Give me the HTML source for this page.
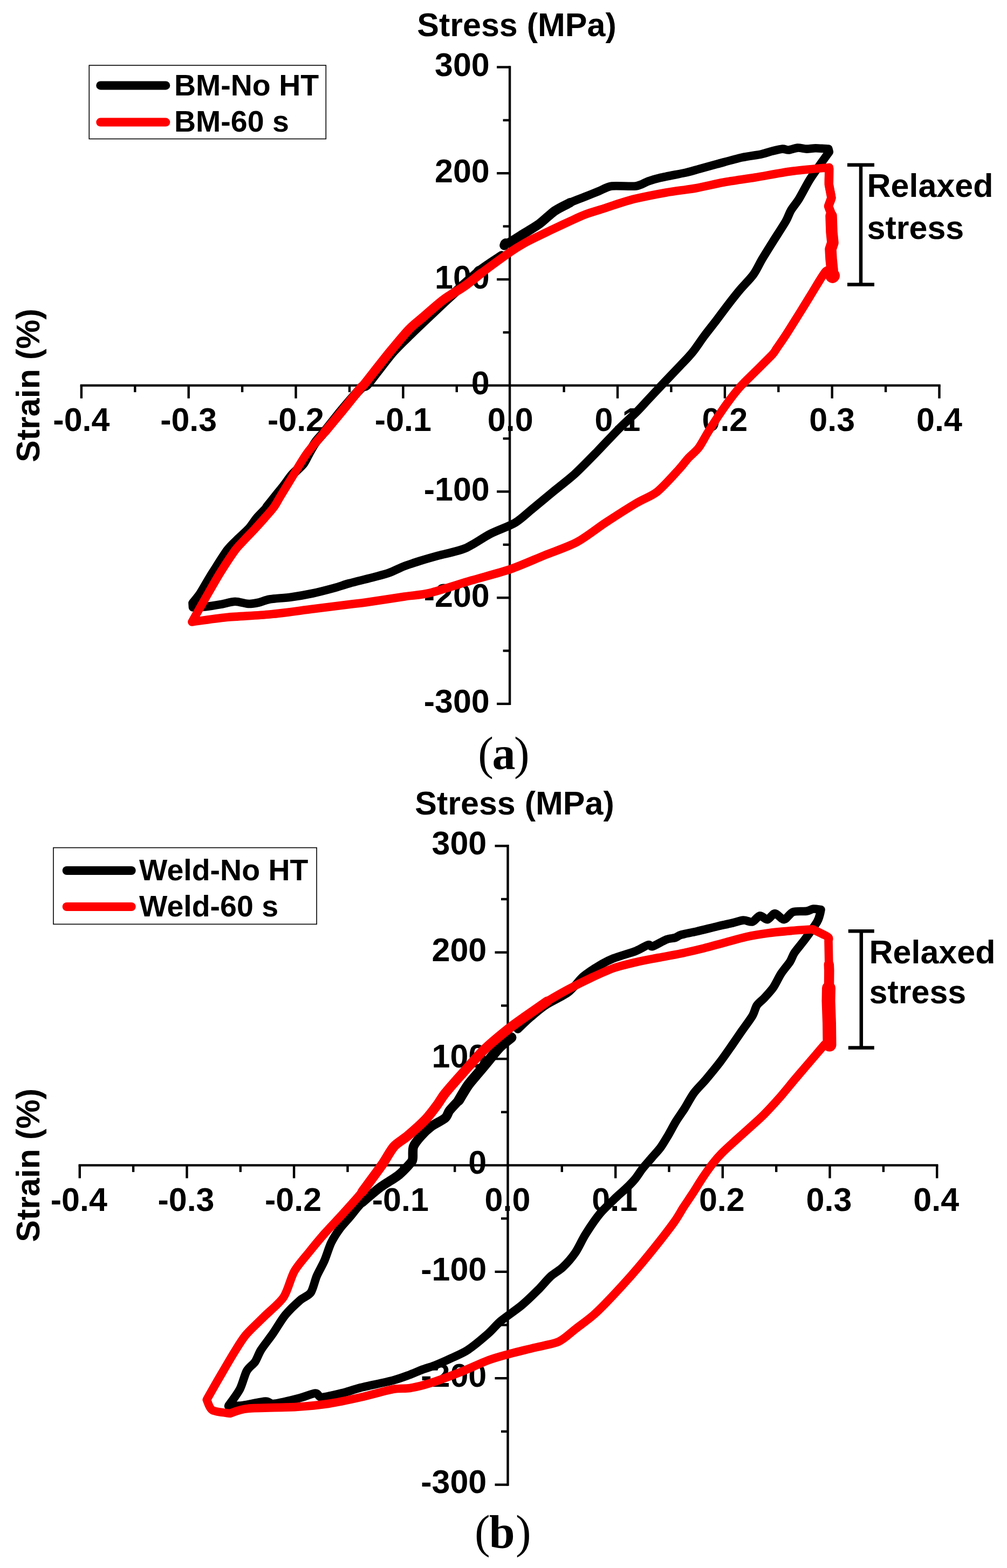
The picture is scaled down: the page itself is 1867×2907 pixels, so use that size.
<!DOCTYPE html>
<html lang="en">
<head>
<meta charset="utf-8">
<title>Stress-strain hysteresis loops</title>
<style>
html,body{margin:0;padding:0;background:#fff;}
body{width:1867px;height:2907px;overflow:hidden;}
svg{display:block;}
text{white-space:pre;}
</style>
</head>
<body>
<svg width="1867" height="2907" viewBox="0 0 1867 2907">
<rect x="0" y="0" width="1867" height="2907" fill="#fff"/>
<g id="plot-a">
<g font-family='"Liberation Sans", sans-serif' font-weight="bold" font-size="61px" fill="#000">
<text x="958" y="66.5" text-anchor="middle">Stress (MPa)</text>
<text transform="translate(73,714.6) rotate(-90)" text-anchor="middle">Strain (%)</text>
<text x="150.9" y="799.4" text-anchor="middle">-0.4</text>
<text x="349.7" y="799.4" text-anchor="middle">-0.3</text>
<text x="548.5" y="799.4" text-anchor="middle">-0.2</text>
<text x="747.4" y="799.4" text-anchor="middle">-0.1</text>
<text x="946.2" y="799.4" text-anchor="middle">0.0</text>
<text x="1145.0" y="799.4" text-anchor="middle">0.1</text>
<text x="1343.9" y="799.4" text-anchor="middle">0.2</text>
<text x="1542.7" y="799.4" text-anchor="middle">0.3</text>
<text x="1741.5" y="799.4" text-anchor="middle">0.4</text>
<text x="907.8" y="141.0" text-anchor="end">300</text>
<text x="907.8" y="337.7" text-anchor="end">200</text>
<text x="907.8" y="534.5" text-anchor="end">100</text>
<text x="907.8" y="731.2" text-anchor="end">0</text>
<text x="907.8" y="927.9" text-anchor="end">-100</text>
<text x="907.8" y="1124.7" text-anchor="end">-200</text>
<text x="907.8" y="1321.4" text-anchor="end">-300</text>
</g>
<g stroke="#000" stroke-width="4.4" fill="none" stroke-linecap="butt">
<line x1="148.7" y1="714.6" x2="1743.7" y2="714.6"/>
<line x1="945.1" y1="122.3" x2="945.1" y2="1307.1"/>
<line x1="150.9" y1="714.6" x2="150.9" y2="738.6"/>
<line x1="250.3" y1="714.6" x2="250.3" y2="727.1"/>
<line x1="349.7" y1="714.6" x2="349.7" y2="738.6"/>
<line x1="449.1" y1="714.6" x2="449.1" y2="727.1"/>
<line x1="548.5" y1="714.6" x2="548.5" y2="738.6"/>
<line x1="648.0" y1="714.6" x2="648.0" y2="727.1"/>
<line x1="747.4" y1="714.6" x2="747.4" y2="738.6"/>
<line x1="846.8" y1="714.6" x2="846.8" y2="727.1"/>
<line x1="1045.6" y1="714.6" x2="1045.6" y2="727.1"/>
<line x1="1145.0" y1="714.6" x2="1145.0" y2="738.6"/>
<line x1="1244.4" y1="714.6" x2="1244.4" y2="727.1"/>
<line x1="1343.9" y1="714.6" x2="1343.9" y2="738.6"/>
<line x1="1443.3" y1="714.6" x2="1443.3" y2="727.1"/>
<line x1="1542.7" y1="714.6" x2="1542.7" y2="738.6"/>
<line x1="1642.1" y1="714.6" x2="1642.1" y2="727.1"/>
<line x1="1741.5" y1="714.6" x2="1741.5" y2="738.6"/>
<line x1="945.1" y1="1304.9" x2="921.1" y2="1304.9"/>
<line x1="945.1" y1="1206.5" x2="932.6" y2="1206.5"/>
<line x1="945.1" y1="1108.2" x2="921.1" y2="1108.2"/>
<line x1="945.1" y1="1009.8" x2="932.6" y2="1009.8"/>
<line x1="945.1" y1="911.4" x2="921.1" y2="911.4"/>
<line x1="945.1" y1="813.1" x2="932.6" y2="813.1"/>
<line x1="945.1" y1="616.3" x2="932.6" y2="616.3"/>
<line x1="945.1" y1="518.0" x2="921.1" y2="518.0"/>
<line x1="945.1" y1="419.6" x2="932.6" y2="419.6"/>
<line x1="945.1" y1="321.2" x2="921.1" y2="321.2"/>
<line x1="945.1" y1="222.9" x2="932.6" y2="222.9"/>
<line x1="945.1" y1="124.5" x2="921.1" y2="124.5"/>
</g>
<rect x="165.3" y="121.1" width="438.99999999999994" height="136.4" fill="#fff" stroke="#000" stroke-width="1.6"/>
<line x1="186.3" y1="158.4" x2="307.3" y2="158.4" stroke="#000" stroke-width="16" stroke-linecap="round"/>
<line x1="186.3" y1="226.6" x2="307.3" y2="226.6" stroke="#f00" stroke-width="16" stroke-linecap="round"/>
<g font-family='"Liberation Sans", sans-serif' font-weight="bold" font-size="55.5px" fill="#000">
<text x="323" y="177.3">BM-No HT</text>
<text x="323" y="243.5">BM-60 s</text>
</g>
<path d="M935.0,455.0 C935.3,454.4 935.6,451.8 937.0,451.0 C938.4,450.2 940.1,452.1 945.0,449.5 C949.9,446.9 963.6,437.9 971.4,433.0 C979.2,428.1 991.9,420.9 1000.0,415.0 C1008.1,409.1 1020.5,396.6 1028.6,391.0 C1036.7,385.4 1049.0,379.5 1057.1,375.7 C1065.2,371.9 1078.2,367.3 1085.7,364.3 C1093.2,361.3 1103.1,357.2 1110.0,354.5 C1116.9,351.8 1124.7,346.3 1134.5,345.0 C1144.3,343.7 1169.7,346.3 1179.2,345.0 C1188.7,343.7 1195.3,338.3 1201.6,336.1 C1207.9,333.9 1213.6,332.1 1223.9,329.7 C1234.2,327.3 1263.9,321.7 1274.2,319.4 C1284.5,317.1 1288.6,315.4 1296.5,313.2 C1304.4,311.0 1318.8,307.0 1330.0,304.0 C1341.2,301.0 1363.8,294.6 1375.4,292.0 C1387.0,289.4 1403.8,287.5 1411.7,285.8 C1419.6,284.1 1425.7,281.7 1431.2,280.3 C1436.7,278.9 1446.4,276.4 1450.8,276.1 C1455.2,275.8 1458.0,278.3 1462.0,278.0 C1466.0,277.7 1474.0,274.4 1478.7,274.1 C1483.4,273.8 1490.8,276.0 1495.5,276.1 C1500.2,276.2 1506.5,274.7 1512.2,274.7 C1517.9,274.7 1532.5,275.9 1535.9,276.1 L1537.3,281.7 C1535.1,284.7 1527.1,295.7 1522.0,303.0 C1516.9,310.3 1507.2,323.6 1501.4,332.9 C1495.6,342.2 1486.4,360.5 1481.4,368.6 C1476.4,376.7 1469.9,384.1 1466.4,390.0 C1462.9,395.9 1461.6,401.9 1457.0,410.0 C1452.4,418.1 1439.8,437.2 1433.6,447.1 C1427.4,457.0 1418.4,471.3 1413.2,480.0 C1408.0,488.7 1402.9,500.5 1397.1,508.6 C1391.3,516.7 1378.9,529.0 1372.1,537.1 C1365.3,545.2 1355.6,557.6 1349.3,565.7 C1343.0,573.8 1334.1,586.2 1327.9,594.3 C1321.7,602.4 1311.6,615.0 1305.7,622.9 C1299.8,630.8 1291.0,644.0 1286.4,650.0 C1281.8,656.0 1280.5,657.5 1272.9,665.6 C1265.3,673.7 1243.1,696.8 1233.0,707.5 C1222.9,718.2 1209.0,733.0 1201.5,741.0 C1194.0,749.0 1187.8,756.2 1180.0,764.0 C1172.2,771.8 1156.3,786.1 1146.1,796.4 C1135.9,806.7 1119.2,824.9 1107.8,836.6 C1096.4,848.3 1077.5,867.9 1065.6,878.8 C1053.7,889.7 1034.9,903.8 1023.5,913.2 C1012.1,922.6 995.0,937.0 985.2,945.0 C975.4,953.0 965.4,963.1 954.5,969.5 C943.6,975.9 921.6,983.3 908.6,990.0 C895.6,996.7 876.2,1010.8 862.6,1016.5 C849.0,1022.2 824.7,1026.7 812.8,1030.0 C800.9,1033.3 787.2,1037.2 778.3,1040.0 C769.4,1042.8 758.1,1046.4 750.0,1049.5 C741.9,1052.6 729.0,1059.3 720.9,1062.2 C712.8,1065.1 703.3,1067.3 693.0,1070.0 C682.7,1072.7 658.3,1078.6 648.0,1081.4 C637.7,1084.2 629.6,1087.4 620.0,1090.0 C610.4,1092.6 591.3,1097.6 580.0,1100.0 C568.7,1102.4 551.3,1105.4 540.0,1107.0 C528.7,1108.6 508.5,1109.6 500.0,1111.0 C491.5,1112.4 485.7,1115.8 480.0,1117.0 C474.3,1118.2 466.2,1119.7 460.0,1119.4 C453.8,1119.1 443.1,1115.1 436.0,1115.2 C428.9,1115.3 417.9,1119.0 410.0,1120.4 C402.1,1121.8 387.4,1124.2 380.0,1125.0 C372.6,1125.8 360.7,1125.9 357.5,1126.0 L357.0,1118.0 C359.0,1115.5 366.9,1106.1 371.0,1100.0 C375.1,1093.9 382.4,1080.7 385.8,1075.0 C389.2,1069.3 390.0,1067.8 395.0,1060.0 C400.0,1052.2 414.6,1028.5 421.0,1020.0 C427.4,1011.5 434.3,1005.7 440.0,1000.0 C445.7,994.3 455.9,985.7 461.0,980.0 C466.1,974.3 471.2,965.7 476.0,960.0 C480.8,954.3 490.0,945.7 495.0,940.0 C500.0,934.3 506.5,925.7 511.0,920.0 C515.5,914.3 522.6,905.7 527.0,900.0 C531.4,894.3 537.0,885.7 542.0,880.0 C547.0,874.3 557.6,865.7 562.0,860.0 C566.4,854.3 569.7,845.7 573.0,840.0 C576.3,834.3 580.9,825.7 585.0,820.0 C589.1,814.3 595.1,808.5 602.0,800.0 C608.9,791.5 624.5,771.3 634.0,760.0 C643.5,748.7 662.5,726.5 669.0,720.0 C675.5,713.5 675.8,718.2 680.0,714.0 C684.2,709.8 691.9,698.9 699.0,690.0 C706.1,681.1 720.8,661.3 730.0,651.0 C739.2,640.7 755.9,624.9 764.0,617.0 C772.1,609.1 778.5,603.1 787.0,595.0 C795.5,586.9 813.9,569.4 824.0,560.0 C834.1,550.6 848.9,537.1 858.0,529.0 C867.1,520.9 880.4,509.1 888.0,503.0 C895.6,496.9 906.0,490.1 912.0,486.0 C918.0,481.9 927.5,475.7 930.0,474.0" fill="none" stroke="#000" stroke-width="15.6" stroke-linejoin="round" stroke-linecap="round"/>
<path d="M495.0,940.0 C497.3,937.2 506.5,925.7 511.0,920.0 C515.5,914.3 522.6,905.7 527.0,900.0 C531.4,894.3 537.0,885.7 542.0,880.0 C547.0,874.3 557.6,865.7 562.0,860.0 C566.4,854.3 569.7,845.7 573.0,840.0 C576.3,834.3 580.9,825.7 585.0,820.0 C589.1,814.3 595.1,808.5 602.0,800.0 C608.9,791.5 624.5,771.3 634.0,760.0 C643.5,748.7 662.5,726.5 669.0,720.0 C675.5,713.5 675.8,718.2 680.0,714.0 C684.2,709.8 691.9,698.9 699.0,690.0 C706.1,681.1 720.8,661.3 730.0,651.0 C739.2,640.7 755.9,624.9 764.0,617.0 C772.1,609.1 778.5,603.1 787.0,595.0 C795.5,586.9 813.9,569.4 824.0,560.0 C834.1,550.6 848.9,537.1 858.0,529.0 C867.1,520.9 880.4,509.1 888.0,503.0 C895.6,496.9 906.0,490.1 912.0,486.0 C918.0,481.9 927.5,475.7 930.0,474.0" fill="none" stroke="#000" stroke-width="17.5" stroke-linejoin="round" stroke-linecap="round"/>
<path d="M935.0,455.0 C935.3,454.4 935.6,451.8 937.0,451.0 C938.4,450.2 940.1,452.1 945.0,449.5 C949.9,446.9 963.6,437.9 971.4,433.0 C979.2,428.1 991.9,420.9 1000.0,415.0 C1008.1,409.1 1020.5,396.6 1028.6,391.0 C1036.7,385.4 1053.1,377.9 1057.1,375.7" fill="none" stroke="#000" stroke-width="17.5" stroke-linejoin="round" stroke-linecap="round"/>
<path d="M356.0,1153.0 C360.2,1145.5 378.4,1113.2 386.0,1100.0 C393.6,1086.8 402.3,1071.3 409.4,1060.0 C416.5,1048.7 429.7,1028.5 436.0,1020.0 C442.3,1011.5 448.8,1005.7 454.0,1000.0 C459.2,994.3 467.8,985.7 473.0,980.0 C478.2,974.3 486.0,965.7 491.0,960.0 C496.0,954.3 503.9,945.7 508.0,940.0 C512.1,934.3 514.8,928.5 520.0,920.0 C525.2,911.5 537.4,891.3 544.4,880.0 C551.4,868.7 561.2,851.2 569.4,840.0 C577.6,828.8 592.6,812.3 602.0,801.0 C611.4,789.7 626.6,771.5 636.0,760.0 C645.4,748.5 662.6,726.5 668.0,720.0 C673.4,713.5 670.5,718.2 674.0,714.0 C677.5,709.8 685.9,698.9 693.0,690.0 C700.1,681.1 714.8,662.2 724.0,651.0 C733.2,639.8 749.8,619.6 758.0,611.0 C766.2,602.4 772.9,597.8 782.0,590.0 C791.1,582.2 810.7,564.5 822.0,556.0 C833.3,547.5 852.1,537.0 862.0,530.0 C871.9,523.0 880.2,515.4 892.0,506.6 C903.8,497.8 933.8,475.8 945.0,468.0 C956.2,460.2 963.6,455.9 971.4,451.5 C979.2,447.1 991.9,441.0 1000.0,437.0 C1008.1,433.0 1020.5,427.1 1028.6,423.3 C1036.7,419.5 1049.0,413.7 1057.1,410.0 C1065.2,406.3 1076.8,400.7 1085.7,397.4 C1094.6,394.1 1110.9,389.4 1120.0,386.4 C1129.1,383.4 1141.6,379.1 1150.0,376.5 C1158.4,373.9 1167.1,371.0 1179.2,368.2 C1191.3,365.4 1219.3,359.8 1235.1,357.0 C1250.9,354.2 1275.8,351.4 1290.9,348.7 C1306.0,346.0 1326.4,340.8 1341.9,338.0 C1357.4,335.2 1382.2,331.9 1400.0,329.0 C1417.8,326.1 1448.0,320.1 1467.5,317.5 C1487.0,314.9 1527.4,311.4 1537.3,310.4 L1537.3,313.0 C1537.2,317.1 1536.2,334.1 1536.8,341.7 C1537.4,349.3 1541.6,361.1 1541.5,366.8 C1541.4,372.5 1536.0,377.9 1536.0,382.2 C1536.0,386.5 1540.7,391.4 1541.5,397.5 C1542.3,403.6 1541.2,418.4 1541.5,425.5 C1541.8,432.6 1543.7,442.3 1543.5,447.8 C1543.3,453.3 1540.2,459.0 1540.1,464.5 C1540.0,470.0 1542.3,481.4 1542.9,486.9 C1543.5,492.4 1544.0,499.5 1544.0,503.6 C1544.0,507.7 1543.1,514.2 1543.0,516.0 L1541.0,500.0 C1539.6,500.4 1534.1,500.0 1531.0,503.0 C1527.9,506.0 1522.4,515.6 1519.0,521.0 C1515.6,526.4 1511.6,533.2 1506.8,541.0 C1502.0,548.8 1492.2,565.0 1485.1,576.3 C1478.0,587.6 1463.4,611.1 1457.0,621.0 C1450.6,630.9 1443.5,640.9 1440.0,646.0 C1436.5,651.1 1437.5,651.3 1432.0,657.3 C1426.5,663.2 1409.6,679.7 1401.3,688.0 C1393.0,696.3 1380.5,708.0 1373.4,715.9 C1366.3,723.8 1356.9,735.9 1351.0,743.8 C1345.1,751.7 1337.0,763.5 1331.5,771.8 C1326.0,780.1 1317.0,794.2 1311.9,802.5 C1306.8,810.8 1300.3,823.7 1295.2,830.4 C1290.1,837.1 1280.7,844.3 1275.6,849.9 C1270.5,855.5 1266.9,861.3 1258.9,870.0 C1250.9,878.7 1230.0,902.5 1218.9,911.3 C1207.8,920.1 1194.2,924.3 1180.6,932.4 C1167.0,940.5 1138.8,958.5 1123.1,968.8 C1107.4,979.1 1085.8,996.5 1069.5,1005.2 C1053.2,1013.9 1025.6,1023.0 1008.2,1030.1 C990.8,1037.2 965.9,1048.5 946.9,1055.0 C927.9,1061.5 895.3,1069.9 874.1,1076.1 C852.9,1082.3 815.1,1094.9 797.5,1099.1 C779.9,1103.3 766.8,1103.5 750.0,1106.0 C733.2,1108.5 693.5,1114.7 679.0,1116.7 C664.5,1118.7 662.0,1118.7 648.0,1120.4 C634.0,1122.1 601.0,1126.4 580.0,1129.0 C559.0,1131.6 522.7,1136.8 500.0,1139.0 C477.3,1141.2 440.4,1142.5 420.0,1144.5 C399.6,1146.5 365.1,1151.8 356.0,1153.0" fill="none" stroke="#f00" stroke-width="15.6" stroke-linejoin="round" stroke-linecap="round"/>
<path d="M602.0,801.0 C606.8,795.2 626.6,771.5 636.0,760.0 C645.4,748.5 662.6,726.5 668.0,720.0 C673.4,713.5 670.5,718.2 674.0,714.0 C677.5,709.8 685.9,698.9 693.0,690.0 C700.1,681.1 714.8,662.2 724.0,651.0 C733.2,639.8 749.8,619.6 758.0,611.0 C766.2,602.4 772.9,597.8 782.0,590.0 C791.1,582.2 810.7,564.5 822.0,556.0 C833.3,547.5 852.1,537.0 862.0,530.0 C871.9,523.0 887.8,509.9 892.0,506.6" fill="none" stroke="#f00" stroke-width="17" stroke-linejoin="round" stroke-linecap="round"/>
<polyline points="1537.3,313.0 1536.8,341.7 1541.5,366.8 1536.0,382.2 1541.5,397.5 1541.5,425.5 1543.5,447.8 1540.1,464.5 1542.9,486.9 1544.0,503.6 1543.0,516.0" fill="none" stroke="#f00" stroke-width="16.5" stroke-linejoin="round" stroke-linecap="round"/>
<polyline points="1541.0,400.0 1542.0,430.0 1544.0,450.0 1540.0,462.0 1541.0,480.0 1543.0,500.0 1543.5,514.0" fill="none" stroke="#f00" stroke-width="21.5" stroke-linejoin="round" stroke-linecap="round"/>
<circle cx="1543.5" cy="511" r="13.5" fill="#f00"/>
<g stroke="#000" stroke-width="6.5" fill="none">
<line x1="1596" y1="305.7" x2="1596" y2="527.4"/>
<line x1="1571" y1="305.7" x2="1621" y2="305.7"/>
<line x1="1571" y1="527.4" x2="1621" y2="527.4"/>
</g>
<g font-family='"Liberation Sans", sans-serif' font-weight="bold" font-size="61px" fill="#000">
<text x="1607.5" y="365.4">Relaxed</text>
<text x="1607.5" y="442.8">stress</text>
</g>
<text y="1426" font-family='"Liberation Serif", serif' font-size="86px" fill="#000"><tspan x="886.3">(</tspan><tspan x="912.5" font-weight="bold">a</tspan><tspan x="953.1">)</tspan></text>
</g>
<g id="plot-b">
<g font-family='"Liberation Sans", sans-serif' font-weight="bold" font-size="61px" fill="#000">
<text x="954" y="1509.5" text-anchor="middle">Stress (MPa)</text>
<text transform="translate(73,2160.4) rotate(-90)" text-anchor="middle">Strain (%)</text>
<text x="146.3" y="2245.2" text-anchor="middle">-0.4</text>
<text x="345.0" y="2245.2" text-anchor="middle">-0.3</text>
<text x="543.6" y="2245.2" text-anchor="middle">-0.2</text>
<text x="742.3" y="2245.2" text-anchor="middle">-0.1</text>
<text x="941.0" y="2245.2" text-anchor="middle">0.0</text>
<text x="1139.7" y="2245.2" text-anchor="middle">0.1</text>
<text x="1338.3" y="2245.2" text-anchor="middle">0.2</text>
<text x="1537.0" y="2245.2" text-anchor="middle">0.3</text>
<text x="1735.7" y="2245.2" text-anchor="middle">0.4</text>
<text x="902.3" y="1584.1" text-anchor="end">300</text>
<text x="902.3" y="1781.5" text-anchor="end">200</text>
<text x="902.3" y="1978.9" text-anchor="end">100</text>
<text x="902.3" y="2176.2" text-anchor="end">0</text>
<text x="902.3" y="2373.6" text-anchor="end">-100</text>
<text x="902.3" y="2571.0" text-anchor="end">-200</text>
<text x="902.3" y="2768.4" text-anchor="end">-300</text>
</g>
<g stroke="#000" stroke-width="4.4" fill="none" stroke-linecap="butt">
<line x1="145.6" y1="2160.4" x2="1739.4" y2="2160.4"/>
<line x1="941.5" y1="1566.1" x2="941.5" y2="2754.8"/>
<line x1="147.8" y1="2160.4" x2="147.8" y2="2184.4"/>
<line x1="247.1" y1="2160.4" x2="247.1" y2="2172.9"/>
<line x1="346.5" y1="2160.4" x2="346.5" y2="2184.4"/>
<line x1="445.8" y1="2160.4" x2="445.8" y2="2172.9"/>
<line x1="545.1" y1="2160.4" x2="545.1" y2="2184.4"/>
<line x1="644.5" y1="2160.4" x2="644.5" y2="2172.9"/>
<line x1="743.8" y1="2160.4" x2="743.8" y2="2184.4"/>
<line x1="843.2" y1="2160.4" x2="843.2" y2="2172.9"/>
<line x1="1041.8" y1="2160.4" x2="1041.8" y2="2172.9"/>
<line x1="1141.2" y1="2160.4" x2="1141.2" y2="2184.4"/>
<line x1="1240.5" y1="2160.4" x2="1240.5" y2="2172.9"/>
<line x1="1339.8" y1="2160.4" x2="1339.8" y2="2184.4"/>
<line x1="1439.2" y1="2160.4" x2="1439.2" y2="2172.9"/>
<line x1="1538.5" y1="2160.4" x2="1538.5" y2="2184.4"/>
<line x1="1637.9" y1="2160.4" x2="1637.9" y2="2172.9"/>
<line x1="1737.2" y1="2160.4" x2="1737.2" y2="2184.4"/>
<line x1="941.5" y1="2752.6" x2="917.5" y2="2752.6"/>
<line x1="941.5" y1="2653.9" x2="929.0" y2="2653.9"/>
<line x1="941.5" y1="2555.2" x2="917.5" y2="2555.2"/>
<line x1="941.5" y1="2456.5" x2="929.0" y2="2456.5"/>
<line x1="941.5" y1="2357.8" x2="917.5" y2="2357.8"/>
<line x1="941.5" y1="2259.1" x2="929.0" y2="2259.1"/>
<line x1="941.5" y1="2061.8" x2="929.0" y2="2061.8"/>
<line x1="941.5" y1="1963.1" x2="917.5" y2="1963.1"/>
<line x1="941.5" y1="1864.4" x2="929.0" y2="1864.4"/>
<line x1="941.5" y1="1765.7" x2="917.5" y2="1765.7"/>
<line x1="941.5" y1="1667.0" x2="929.0" y2="1667.0"/>
<line x1="941.5" y1="1568.3" x2="917.5" y2="1568.3"/>
</g>
<rect x="99" y="1571.6" width="488.1" height="141.80000000000018" fill="#fff" stroke="#000" stroke-width="1.6"/>
<line x1="123.7" y1="1614" x2="243.7" y2="1614" stroke="#000" stroke-width="16" stroke-linecap="round"/>
<line x1="123.7" y1="1681" x2="243.7" y2="1681" stroke="#f00" stroke-width="16" stroke-linecap="round"/>
<g font-family='"Liberation Sans", sans-serif' font-weight="bold" font-size="55.5px" fill="#000">
<text x="258" y="1632.3">Weld-No HT</text>
<text x="258" y="1698.6">Weld-60 s</text>
</g>
<path d="M960.0,1908.0 C963.4,1904.8 976.5,1892.0 983.8,1885.7 C991.1,1879.4 1001.8,1869.9 1011.7,1863.4 C1021.6,1856.9 1043.7,1847.1 1053.6,1839.6 C1063.5,1832.1 1073.2,1817.4 1081.5,1810.3 C1089.8,1803.2 1104.3,1794.1 1112.2,1789.4 C1120.1,1784.7 1127.8,1780.6 1137.3,1776.8 C1146.8,1773.0 1170.1,1766.5 1179.2,1762.9 C1188.3,1759.3 1197.2,1752.9 1201.6,1751.7 C1206.0,1750.5 1205.3,1755.9 1210.0,1754.5 C1214.7,1753.1 1229.2,1744.2 1235.1,1741.9 C1241.0,1739.6 1247.8,1739.8 1251.8,1738.5 C1255.8,1737.2 1257.5,1734.6 1263.0,1733.0 C1268.5,1731.4 1281.7,1729.1 1290.9,1727.0 C1300.1,1724.9 1318.7,1720.2 1327.9,1718.0 C1337.1,1715.8 1348.7,1713.4 1355.8,1711.7 C1362.9,1710.0 1372.7,1706.5 1378.2,1706.1 C1383.7,1705.7 1390.6,1710.1 1394.9,1708.9 C1399.2,1707.7 1404.9,1698.3 1408.9,1697.7 C1412.9,1697.1 1418.9,1705.3 1422.9,1704.7 C1426.9,1704.1 1432.5,1693.5 1436.8,1693.5 C1441.1,1693.5 1448.9,1705.1 1453.6,1704.7 C1458.3,1704.3 1464.4,1692.9 1470.3,1690.7 C1476.2,1688.5 1490.2,1690.1 1495.5,1689.3 C1500.8,1688.5 1504.2,1685.5 1508.0,1685.1 C1511.8,1684.7 1520.0,1686.3 1522.0,1686.5 L1520.6,1693.5 C1519.8,1695.7 1519.0,1702.2 1515.0,1708.9 C1511.0,1715.6 1498.6,1732.9 1492.7,1741.0 C1486.8,1749.1 1477.1,1760.2 1473.1,1766.1 C1469.1,1772.0 1468.3,1777.4 1464.7,1782.9 C1461.1,1788.4 1452.3,1798.5 1448.0,1805.2 C1443.7,1811.9 1438.3,1824.0 1434.0,1830.3 C1429.7,1836.6 1421.6,1845.2 1417.3,1849.9 C1413.0,1854.6 1406.5,1859.1 1403.3,1863.8 C1400.1,1868.5 1398.9,1876.7 1394.9,1883.4 C1390.9,1890.1 1380.9,1903.4 1375.4,1911.3 C1369.9,1919.2 1361.7,1931.3 1356.0,1939.5 C1350.3,1947.7 1341.7,1960.2 1335.0,1969.0 C1328.3,1977.8 1315.6,1993.2 1308.7,2001.4 C1301.8,2009.6 1291.9,2019.1 1286.4,2026.6 C1280.9,2034.1 1274.3,2047.0 1269.6,2054.5 C1264.9,2062.0 1257.2,2072.5 1252.9,2079.6 C1248.6,2086.7 1242.9,2098.0 1238.9,2104.7 C1234.9,2111.4 1229.2,2121.2 1224.9,2127.1 C1220.6,2133.0 1212.9,2141.1 1208.2,2146.6 C1203.5,2152.1 1195.7,2160.7 1191.4,2166.2 C1187.1,2171.7 1181.9,2180.3 1177.5,2185.7 C1173.1,2191.1 1164.9,2199.3 1160.0,2204.0 C1155.1,2208.7 1149.8,2212.7 1143.1,2219.2 C1136.4,2225.7 1120.6,2240.0 1112.5,2249.8 C1104.4,2259.6 1092.2,2277.8 1085.7,2288.1 C1079.2,2298.4 1072.5,2313.9 1066.5,2322.6 C1060.5,2331.3 1050.0,2343.2 1043.5,2349.4 C1037.0,2355.6 1027.0,2360.7 1020.5,2366.7 C1014.0,2372.7 1005.1,2384.0 997.5,2391.6 C989.9,2399.2 976.7,2412.2 966.9,2420.3 C957.1,2428.4 937.3,2441.7 928.6,2449.0 C919.9,2456.3 914.3,2464.4 905.6,2472.0 C896.9,2479.6 877.1,2496.2 867.3,2502.7 C857.5,2509.2 845.3,2513.9 836.6,2518.0 C827.9,2522.1 813.6,2528.4 806.0,2531.4 C798.4,2534.4 789.5,2536.7 783.0,2539.1 C776.5,2541.5 767.7,2545.8 760.0,2548.6 C752.3,2551.4 741.2,2555.8 728.3,2559.2 C715.4,2562.6 681.3,2569.4 668.6,2572.6 C655.9,2575.8 648.9,2579.1 638.7,2581.6 C628.5,2584.1 604.5,2590.3 596.9,2590.5 C589.3,2590.7 590.9,2582.8 585.0,2583.0 C579.1,2583.2 566.0,2589.2 555.0,2592.0 C544.0,2594.8 516.2,2601.7 507.3,2602.5 C498.4,2603.3 500.3,2597.6 492.3,2598.0 C484.3,2598.4 460.2,2604.1 450.5,2605.4 C440.8,2606.7 427.4,2606.8 423.6,2607.0 L424.0,2605.8 C427.0,2601.5 440.2,2584.2 444.9,2575.1 C449.6,2566.0 453.5,2548.7 457.5,2541.6 C461.5,2534.5 469.1,2530.3 472.9,2524.8 C476.7,2519.3 479.3,2510.0 484.0,2502.5 C488.7,2495.0 500.1,2480.9 506.4,2471.8 C512.7,2462.7 521.6,2446.9 528.7,2438.2 C535.8,2429.5 549.9,2416.2 556.6,2410.3 C563.3,2404.4 571.9,2402.7 576.2,2396.4 C580.5,2390.1 583.7,2373.9 587.3,2365.6 C590.9,2357.3 597.5,2346.4 601.3,2337.7 C605.1,2329.0 609.9,2312.5 613.9,2304.2 C617.9,2295.9 624.4,2285.8 629.2,2279.1 C634.0,2272.4 642.0,2264.1 648.0,2257.0 C654.0,2249.9 663.6,2236.9 671.7,2229.0 C679.8,2221.1 695.7,2208.2 705.2,2201.1 C714.7,2194.0 730.8,2185.1 738.7,2178.8 C746.6,2172.5 757.2,2160.8 761.0,2156.4 C764.8,2152.0 764.4,2152.3 765.2,2148.0 C766.0,2143.7 764.4,2131.6 766.6,2125.7 C768.8,2119.8 775.9,2111.5 780.6,2106.2 C785.3,2100.9 793.8,2092.7 800.1,2088.0 C806.4,2083.3 820.6,2076.9 825.3,2072.7 C830.0,2068.5 830.0,2063.3 833.6,2058.7 C837.2,2054.1 848.2,2042.6 850.6,2040.0" fill="none" stroke="#000" stroke-width="15.6" stroke-linejoin="round" stroke-linecap="round"/>
<path d="M671.7,2229.0 C676.4,2225.0 695.7,2208.2 705.2,2201.1 C714.7,2194.0 730.8,2185.1 738.7,2178.8 C746.6,2172.5 757.2,2160.8 761.0,2156.4 C764.8,2152.0 764.4,2152.3 765.2,2148.0 C766.0,2143.7 764.4,2131.6 766.6,2125.7 C768.8,2119.8 775.9,2111.5 780.6,2106.2 C785.3,2100.9 793.8,2092.7 800.1,2088.0 C806.4,2083.3 820.6,2076.9 825.3,2072.7 C830.0,2068.5 830.0,2063.3 833.6,2058.7 C837.2,2054.1 848.2,2042.6 850.6,2040.0" fill="none" stroke="#000" stroke-width="17.5" stroke-linejoin="round" stroke-linecap="round"/>
<path d="M850.6,2040.0 C853.1,2035.9 862.9,2018.8 868.2,2011.4 C873.5,2004.0 882.2,1994.6 887.7,1988.0 C893.2,1981.4 901.6,1971.3 907.1,1964.7 C912.6,1958.1 920.8,1947.1 926.6,1941.3 C932.4,1935.5 945.0,1926.0 948.0,1923.5" fill="none" stroke="#000" stroke-width="19" stroke-linejoin="round" stroke-linecap="round"/>
<path d="M426.6,2620.4 C422.0,2619.6 399.9,2618.0 393.8,2614.4 C387.7,2610.8 384.8,2597.7 383.3,2595.0 L383.3,2595.0 C386.5,2589.4 398.6,2567.8 405.8,2555.5 C413.0,2543.2 426.7,2519.5 433.8,2508.0 C440.9,2496.5 448.2,2484.0 456.1,2474.5 C464.0,2465.0 479.7,2450.9 489.6,2441.0 C499.5,2431.1 518.0,2416.6 525.9,2404.7 C533.8,2392.8 538.8,2369.2 545.5,2357.3 C552.2,2345.4 565.5,2330.9 573.4,2321.0 C581.3,2311.1 592.4,2297.6 601.3,2287.5 C610.2,2277.4 626.0,2261.1 636.0,2250.0 C646.0,2238.9 661.5,2222.2 671.7,2209.5 C681.9,2196.8 699.7,2171.9 708.0,2160.0 C716.3,2148.1 723.6,2133.3 730.3,2125.7 C737.0,2118.1 747.2,2113.3 755.5,2106.2 C763.8,2099.1 781.1,2083.8 789.0,2075.5 C796.9,2067.2 806.2,2054.4 811.3,2047.5 C816.4,2040.6 818.6,2035.3 825.3,2027.0 C832.0,2018.7 848.2,2000.4 858.4,1989.0 C868.6,1977.6 885.6,1957.6 897.4,1946.2 C909.2,1934.8 930.8,1917.0 941.8,1908.2 C952.8,1899.4 965.0,1891.1 975.3,1883.8 C985.6,1876.5 1003.2,1863.6 1014.3,1856.6 C1025.4,1849.6 1042.1,1840.3 1053.6,1834.1 C1065.1,1827.9 1083.6,1818.6 1095.5,1813.1 C1107.4,1807.6 1125.4,1799.2 1137.3,1795.0 C1149.2,1790.8 1167.3,1786.6 1179.2,1783.8 C1191.1,1781.0 1209.2,1777.8 1221.1,1775.5 C1233.0,1773.2 1251.1,1770.1 1263.0,1767.6 C1274.9,1765.1 1293.7,1760.8 1304.9,1758.0 C1316.1,1755.2 1330.7,1751.0 1341.9,1748.0 C1353.1,1745.0 1371.9,1739.4 1383.8,1736.8 C1395.7,1734.2 1413.7,1731.4 1425.6,1729.8 C1437.5,1728.2 1456.0,1726.6 1467.5,1725.6 C1479.0,1724.6 1501.1,1723.2 1506.6,1722.8 L1506.6,1722.8 C1510.6,1724.8 1530.3,1733.8 1534.5,1736.8 C1538.7,1739.8 1535.8,1742.8 1536.0,1743.8 L1536.0,1743.8 C1536.1,1749.7 1536.6,1773.4 1536.8,1785.6 C1537.0,1797.8 1537.1,1813.8 1537.3,1830.0 C1537.5,1846.2 1537.6,1884.4 1538.0,1900.0 C1538.4,1915.6 1539.7,1934.3 1540.0,1940.0 L1529.0,1936.4 C1526.6,1939.2 1516.9,1950.5 1512.2,1956.0 C1507.5,1961.5 1501.0,1969.1 1495.5,1975.5 C1490.0,1981.9 1480.5,1993.0 1473.4,2001.4 C1466.3,2009.8 1453.5,2025.8 1445.5,2034.9 C1437.5,2044.0 1424.4,2058.2 1417.0,2065.7 C1409.6,2073.2 1400.4,2081.3 1393.0,2088.0 C1385.6,2094.7 1372.8,2106.0 1365.0,2113.1 C1357.2,2120.2 1344.2,2131.9 1338.0,2138.2 C1331.8,2144.5 1325.9,2151.5 1321.0,2157.8 C1316.1,2164.1 1308.4,2175.0 1303.1,2182.9 C1297.8,2190.8 1288.7,2205.7 1283.6,2213.6 C1278.5,2221.5 1271.5,2231.5 1266.8,2238.8 C1262.1,2246.1 1258.1,2254.3 1250.4,2265.1 C1242.7,2275.9 1223.0,2301.3 1212.1,2314.9 C1201.2,2328.5 1184.7,2348.4 1173.8,2360.9 C1162.9,2373.4 1145.7,2392.2 1135.4,2403.1 C1125.1,2414.0 1110.8,2428.8 1101.0,2437.5 C1091.2,2446.2 1075.7,2457.2 1066.5,2464.3 C1057.3,2471.4 1046.7,2482.4 1035.8,2487.3 C1024.9,2492.2 1002.9,2495.5 989.9,2498.8 C976.9,2502.1 955.8,2507.0 943.9,2510.3 C932.0,2513.6 918.1,2517.2 905.6,2521.8 C893.1,2526.4 871.0,2536.9 855.8,2542.9 C840.6,2548.9 811.9,2559.7 798.3,2564.0 C784.7,2568.3 769.9,2571.9 760.0,2573.5 C750.1,2575.1 741.2,2573.2 728.3,2575.6 C715.4,2578.0 685.5,2586.7 668.6,2590.5 C651.7,2594.3 625.7,2600.0 608.8,2602.5 C591.9,2605.0 570.3,2607.1 549.1,2608.4 C527.9,2609.7 476.9,2609.7 459.5,2611.4 C442.1,2613.1 431.3,2619.1 426.6,2620.4" fill="none" stroke="#f00" stroke-width="15.6" stroke-linejoin="round" stroke-linecap="round"/>
<path d="M671.7,2209.5 C676.8,2202.5 699.7,2171.9 708.0,2160.0 C716.3,2148.1 723.6,2133.3 730.3,2125.7 C737.0,2118.1 747.2,2113.3 755.5,2106.2 C763.8,2099.1 781.1,2083.8 789.0,2075.5 C796.9,2067.2 806.2,2054.4 811.3,2047.5 C816.4,2040.6 818.6,2035.3 825.3,2027.0 C832.0,2018.7 848.2,2000.4 858.4,1989.0 C868.6,1977.6 885.6,1957.6 897.4,1946.2 C909.2,1934.8 930.8,1917.0 941.8,1908.2 C952.8,1899.4 965.0,1891.1 975.3,1883.8 C985.6,1876.5 1008.8,1860.5 1014.3,1856.6" fill="none" stroke="#f00" stroke-width="18" stroke-linejoin="round" stroke-linecap="round"/>
<polyline points="1536.8,1788.0 1537.3,1799.6 1537.0,1830.0" fill="none" stroke="#f00" stroke-width="18.5" stroke-linejoin="round" stroke-linecap="round"/>
<polyline points="1536.5,1832.0 1536.0,1855.5 1537.5,1897.3 1538.0,1937.0" fill="none" stroke="#f00" stroke-width="25" stroke-linejoin="round" stroke-linecap="round"/>
<g stroke="#000" stroke-width="6.5" fill="none">
<line x1="1596.8" y1="1726.2" x2="1596.8" y2="1942.6"/>
<line x1="1572.8" y1="1726.2" x2="1620.8" y2="1726.2"/>
<line x1="1572.8" y1="1942.6" x2="1620.8" y2="1942.6"/>
</g>
<g font-family='"Liberation Sans", sans-serif' font-weight="bold" font-size="61px" fill="#000">
<text x="1611.5" y="1785.6">Relaxed</text>
<text x="1611.5" y="1859.6">stress</text>
</g>
<text y="2868.5" font-family='"Liberation Serif", serif' font-size="86px" fill="#000"><tspan x="880.0">(</tspan><tspan x="906.7" font-weight="bold">b</tspan><tspan x="955.9">)</tspan></text>
</g>
</svg>
</body>
</html>
